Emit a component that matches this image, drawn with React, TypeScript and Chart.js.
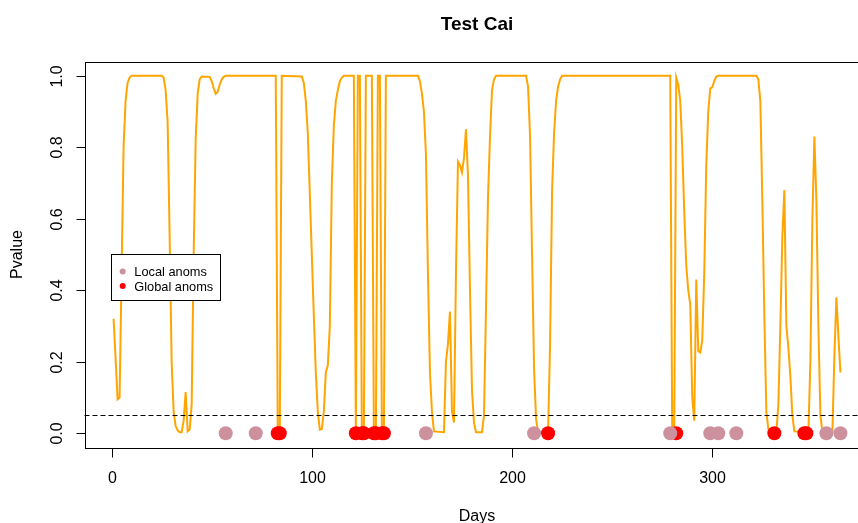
import React, { useEffect, useRef } from "react";
import { Chart, registerables } from "chart.js";

Chart.register(...registerables);

// ---- data ----
const days = [
  1, 2, 3, 4, 5, 6, 7, 8, 9, 10, 25, 26, 27, 28, 29, 30, 31, 32, 33, 34, 35, 36, 37, 38, 39, 40, 41, 42, 43, 44, 45,
  49, 50, 51, 52, 53, 54, 55, 56, 57, 82, 83, 84, 85, 95, 96, 97, 98, 99, 100, 101, 102, 103, 104, 105, 106, 107,
  108, 109, 110, 111, 112, 113, 114, 115, 116, 121, 122, 123, 124, 125, 126, 127, 130, 131, 132, 133, 134, 135, 136,
  137, 153, 154, 155, 156, 157, 158, 159, 160, 161, 166, 167, 168, 169, 170, 171, 172, 173, 174, 175, 176, 177, 178,
  179, 180, 181, 182, 185, 186, 187, 188, 189, 190, 191, 192, 207, 208, 209, 210, 211, 212, 213, 218, 219, 220, 221,
  222, 223, 224, 225, 279, 280, 281, 282, 283, 284, 285, 286, 287, 288, 289, 290, 291, 292, 293, 294, 295, 296, 297,
  298, 299, 300, 301, 302, 303, 322, 323, 324, 325, 326, 327, 328, 329, 332, 333, 334, 335, 336, 337, 338, 339, 340,
  341, 348, 349, 350, 351, 352, 353, 354, 355, 360, 361, 362, 363, 364,
];
const pvalues = [
  0.32, 0.21, 0.095, 0.1, 0.45, 0.8, 0.93, 0.98, 0.995, 1.0, 1.0, 0.995, 0.96, 0.87, 0.55, 0.2, 0.06, 0.02, 0.008,
  0.003, 0.003, 0.035, 0.115, 0.005, 0.01, 0.08, 0.5, 0.82, 0.95, 0.99, 0.998,
  0.997, 0.985, 0.965, 0.95, 0.955, 0.975, 0.99, 0.997, 1.0, 1.0, 0.0, 0.0, 1.0, 0.998, 0.98, 0.93, 0.84, 0.67, 0.5,
  0.33, 0.17, 0.06, 0.01, 0.012, 0.06, 0.17,
  0.19, 0.3, 0.7, 0.86, 0.93, 0.96, 0.985, 0.995, 1.0, 1.0, 0.0, 1.0, 1.0, 0.0, 0.0, 1.0, 1.0, 0.0, 0.0, 1.0, 1.0, 0.0,
  0.0,
  1.0, 1.0, 0.985, 0.95, 0.9, 0.78, 0.45, 0.17, 0.06, 0.005, 0.003, 0.2, 0.25, 0.34, 0.06, 0.03, 0.45, 0.76, 0.75,
  0.73, 0.77, 0.85, 0.72,
  0.4, 0.12, 0.03, 0.003, 0.003, 0.05, 0.35, 0.66, 0.83, 0.96, 0.99, 1.0, 1.0, 0.97, 0.83, 0.5, 0.18, 0.04, 0.003,
  0.005, 0.25, 0.68, 0.84,
  0.93, 0.97, 0.99, 1.0, 1.0, 0.0, 0.0, 0.995, 0.975, 0.93, 0.8, 0.62, 0.47, 0.4, 0.36, 0.1, 0.035, 0.43, 0.23, 0.226,
  0.26, 0.45, 0.75,
  0.9, 0.965, 0.968, 0.985, 0.998, 1.0, 1.0, 0.99, 0.93, 0.65, 0.33, 0.06, 0.012, 0.003, 0.003, 0.08, 0.3, 0.55, 0.68,
  0.3, 0.24, 0.16, 0.05,
  0.005, 0.003, 0.2, 0.6, 0.83, 0.65, 0.3, 0.05, 0.003, 0.003, 0.22, 0.38, 0.27, 0.17,
];
const localAnomDays = [57, 72, 157, 211, 279, 299, 303, 312, 357, 364];
const globalAnomDays = [83, 84, 122, 125, 126, 131, 132, 135, 136, 218, 282, 331, 346, 347];
const anomValue = 0;
const threshold = 0.05;
const xTicks = [0, 100, 200, 300];
const yTicks = [0, 0.2, 0.4, 0.6, 0.8, 1.0];
const yTickLabels = ["0.0", "0.2", "0.4", "0.6", "0.8", "1.0"];
const chartTitle = "Test Cai";
const xTitle = "Days";
const yTitle = "Pvalue";
const legendLabels = ["Local anoms", "Global anoms"];

const LINE_COLOR = "#FFA500";
const LOCAL_COLOR = "#CD919E";
const GLOBAL_COLOR = "#FF0000";
const FONT = "'Liberation Sans', Arial, Helvetica, sans-serif";

const xMin = days[0] - 0.04 * (days[days.length - 1] - days[0]);
const xMax = days[days.length - 1] + 0.04 * (days[days.length - 1] - days[0]);

const rStylePlugin = {
  id: "rstyle",
  afterDraw(chart: any) {
    const ctx = chart.ctx as CanvasRenderingContext2D;
    const area = chart.chartArea;
    const xs = chart.scales.x;
    const ys = chart.scales.y;
    ctx.save();

    // threshold dashed line
    const yt = Math.round(ys.getPixelForValue(threshold)) + 0.5;
    ctx.strokeStyle = "#000";
    ctx.lineWidth = 1;
    ctx.setLineDash([5, 3]);
    ctx.beginPath();
    ctx.moveTo(area.left, yt);
    ctx.lineTo(area.right, yt);
    ctx.stroke();
    ctx.setLineDash([]);

    // box
    const L = Math.round(area.left) + 0.5;
    const T = Math.round(area.top) + 0.5;
    const R = Math.round(area.right) + 0.5;
    const B = Math.round(area.bottom) + 0.5;
    ctx.strokeStyle = "#000";
    ctx.lineWidth = 1;
    ctx.strokeRect(L, T, R - L, B - T);

    // x ticks
    ctx.fillStyle = "#000";
    ctx.font = `16px ${FONT}`;
    ctx.textAlign = "center";
    ctx.textBaseline = "alphabetic";
    xTicks.forEach((v) => {
      const px = Math.round(xs.getPixelForValue(v)) + 0.5;
      ctx.beginPath();
      ctx.moveTo(px, B);
      ctx.lineTo(px, B + 9);
      ctx.stroke();
      ctx.fillText(String(v), px, 483);
    });

    // y ticks
    yTicks.forEach((v, i) => {
      const py = Math.round(ys.getPixelForValue(v)) + 0.5;
      ctx.beginPath();
      ctx.moveTo(L - 9, py);
      ctx.lineTo(L, py);
      ctx.stroke();
      ctx.save();
      ctx.translate(61.5, py);
      ctx.rotate(-Math.PI / 2);
      ctx.fillText(yTickLabels[i], 0, 0);
      ctx.restore();
    });

    // axis titles
    const cx = (area.left + area.right) / 2;
    const cy = (area.top + area.bottom) / 2;
    ctx.fillText(xTitle, cx, 521);
    ctx.save();
    ctx.translate(22, cy);
    ctx.rotate(-Math.PI / 2);
    ctx.fillText(yTitle, 0, 0);
    ctx.restore();

    // main title
    ctx.font = `bold 19px ${FONT}`;
    ctx.fillText(chartTitle, cx, 30);

    // legend
    ctx.fillStyle = "#fff";
    ctx.fillRect(111.5, 254.5, 109, 46);
    ctx.strokeStyle = "#000";
    ctx.strokeRect(111.5, 254.5, 109, 46);
    const colors = [LOCAL_COLOR, GLOBAL_COLOR];
    const ly = [271.5, 286];
    ctx.font = `12.8px ${FONT}`;
    ctx.textAlign = "left";
    legendLabels.forEach((lab, i) => {
      ctx.fillStyle = colors[i];
      ctx.beginPath();
      ctx.arc(122.7, ly[i], 3, 0, Math.PI * 2);
      ctx.fill();
      ctx.fillStyle = "#000";
      ctx.fillText(lab, 134.3, ly[i] + 4.6);
    });

    ctx.restore();
  },
};

export default function App() {
  const ref = useRef<HTMLCanvasElement | null>(null);

  useEffect(() => {
    if (!ref.current) return;
    const chart = new Chart(ref.current, {
      type: "scatter",
      data: {
        datasets: [
          {
            label: legendLabels[0],
            data: localAnomDays.map((d) => ({ x: d, y: anomValue })),
            backgroundColor: LOCAL_COLOR,
            borderWidth: 0,
            pointRadius: 7,
          },
          {
            label: legendLabels[1],
            data: globalAnomDays.map((d) => ({ x: d, y: anomValue })),
            backgroundColor: GLOBAL_COLOR,
            borderWidth: 0,
            pointRadius: 7,
          },
          {
            label: "Pvalue",
            data: days.map((d, i) => ({ x: d, y: pvalues[i] })),
            showLine: true,
            borderColor: LINE_COLOR,
            borderWidth: 2,
            pointRadius: 0,
            tension: 0,
          } as any,
        ],
      },
      options: {
        responsive: false,
        animation: false,
        events: [],
        layout: { padding: { left: 84.5, top: 61.5, right: 10.5, bottom: 75.5 } },
        scales: {
          x: { type: "linear", min: xMin, max: xMax, display: false },
          y: { type: "linear", min: -0.04, max: 1.04, display: false },
        },
        plugins: {
          legend: { display: false },
          tooltip: { enabled: false },
          title: { display: false },
        },
      },
      plugins: [rStylePlugin],
    });
    return () => chart.destroy();
  }, []);

  return (
    <div
      style={{
        position: "fixed",
        left: 0,
        top: 0,
        width: 858,
        height: 523,
        overflow: "hidden",
        background: "#fff",
      }}
    >
      <canvas ref={ref} width={880} height={523} style={{ display: "block", width: 880, height: 523 }} />
    </div>
  );
}
